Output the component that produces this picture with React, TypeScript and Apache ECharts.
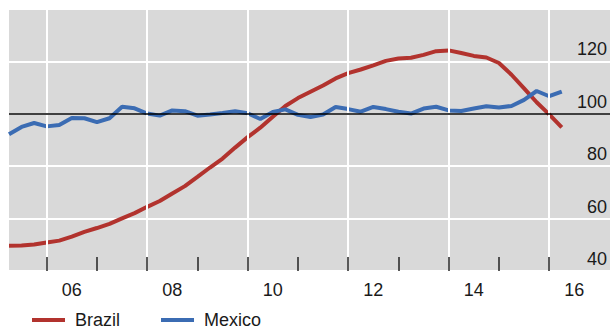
import React, { useEffect, useRef } from "react";
import * as echarts from "echarts";

const quarters = [
  2005.25, 2005.5, 2005.75,
  2006.0, 2006.25, 2006.5, 2006.75,
  2007.0, 2007.25, 2007.5, 2007.75,
  2008.0, 2008.25, 2008.5, 2008.75,
  2009.0, 2009.25, 2009.5, 2009.75,
  2010.0, 2010.25, 2010.5, 2010.75,
  2011.0, 2011.25, 2011.5, 2011.75,
  2012.0, 2012.25, 2012.5, 2012.75,
  2013.0, 2013.25, 2013.5, 2013.75,
  2014.0, 2014.25, 2014.5, 2014.75,
  2015.0, 2015.25, 2015.5, 2015.75,
  2016.0, 2016.25,
];

const brazil = [
  49.6, 49.7, 50.1,
  50.9, 51.6, 53.1, 54.9,
  56.4, 58.0, 60.1, 62.1,
  64.5, 66.7, 69.6, 72.4,
  75.9, 79.5, 82.9, 87.1,
  91.1, 94.7, 98.9, 103.0,
  106.0, 108.4, 110.8, 113.5,
  115.5, 116.9, 118.5, 120.2,
  121.1, 121.4, 122.5, 123.9,
  124.2, 123.2, 122.1, 121.5,
  119.4, 114.9, 109.7, 104.4,
  99.8, 94.8,
];

const mexico = [
  92.2, 95.0, 96.5,
  95.2, 95.7, 98.4, 98.3,
  96.8, 98.3, 102.7, 102.1,
  100.1, 99.3, 101.3, 101.0,
  99.3, 99.7, 100.3, 101.0,
  100.2, 98.0, 100.7, 101.7,
  99.6, 98.8, 99.7, 102.6,
  101.8, 100.8, 102.6, 101.8,
  100.8, 100.1, 102.0, 102.7,
  101.3, 101.1, 102.0, 102.9,
  102.4, 103.0, 105.3, 108.7,
  106.7, 108.5,
];

const yearTicks = [2006, 2007, 2008, 2009, 2010, 2011, 2012, 2013, 2014, 2015, 2016];
const gridYears = [2006, 2008, 2010, 2012, 2014, 2016];
const labelPositions = [2006.5, 2008.5, 2010.5, 2012.5, 2014.5, 2016.5];
const referenceLevel = 100;

const FONT = "'Liberation Sans', Arial, sans-serif";

export default function App() {
  const ref = useRef<HTMLDivElement>(null);
  useEffect(() => {
    if (!ref.current) return;
    const chart = echarts.init(ref.current, null, { renderer: "svg" });
    const zip = (vals: number[]) => quarters.map((q, i) => [q, vals[i]]);
    chart.setOption({
      animation: false,
      grid: {
        left: 9,
        right: 0,
        top: 9,
        bottom: 60,
        show: true,
        backgroundColor: "#d9d9d9",
        borderWidth: 0,
      },
      legend: {
        data: ["Brazil", "Mexico"],
        left: 32,
        top: 311,
        padding: 0,
        icon: "rect",
        itemWidth: 33,
        itemHeight: 4,
        itemGap: 41,
        textStyle: { fontFamily: FONT, fontSize: 18, color: "#1a1a1a", padding: [0, 0, 0, 5] },
      },
      xAxis: {
        type: "value",
        min: 2005.25,
        max: 2017.21,
        z: 10,
        axisLine: { show: false },
        splitLine: { show: false },
        axisTick: {
          show: true,
          inside: true,
          length: 14,
          customValues: yearTicks,
          lineStyle: { color: "#222", width: 1.5 },
        },
        axisLabel: {
          customValues: labelPositions,
          margin: 10,
          fontFamily: FONT,
          fontSize: 18,
          color: "#1a1a1a",
          formatter: (v: number) => String(Math.floor(v)).slice(2),
        },
      },
      yAxis: {
        type: "value",
        position: "right",
        min: 40,
        max: 140,
        interval: 20,
        axisLine: { show: false },
        axisTick: { show: false },
        splitLine: { show: true, lineStyle: { color: "#ffffff", width: 2 } },
        axisLabel: {
          inside: true,
          margin: 3,
          showMaxLabel: false,
          verticalAlign: "bottom",
          padding: [0, 0, 3, 0],
          fontFamily: FONT,
          fontSize: 18,
          color: "#1a1a1a",
        },
      },
      series: [
        {
          name: "_grid",
          type: "line",
          data: [],
          z: 1,
          silent: true,
          markLine: {
            silent: true,
            symbol: ["none", "none"],
            label: { show: false },
            lineStyle: { color: "#ffffff", width: 2, type: "solid" },
            data: gridYears.map((y) => ({ xAxis: y })),
          },
        },
        {
          name: "_ref",
          type: "line",
          data: [],
          z: 2,
          silent: true,
          markLine: {
            silent: true,
            symbol: ["none", "none"],
            label: { show: false },
            lineStyle: { color: "#000000", width: 1.5, type: "solid" },
            data: [{ yAxis: referenceLevel }],
          },
        },
        {
          name: "Brazil",
          type: "line",
          data: zip(brazil),
          showSymbol: false,
          z: 3,
          lineStyle: { color: "#b2332e", width: 4 },
          itemStyle: { color: "#b2332e" },
        },
        {
          name: "Mexico",
          type: "line",
          data: zip(mexico),
          showSymbol: false,
          z: 4,
          lineStyle: { color: "#3b6cb3", width: 4 },
          itemStyle: { color: "#3b6cb3" },
        },
      ],
    });
    return () => chart.dispose();
  }, []);
  return (
    <div
      ref={ref}
      style={{ position: "absolute", left: 0, top: 0, width: 610, height: 331 }}
    />
  );
}
